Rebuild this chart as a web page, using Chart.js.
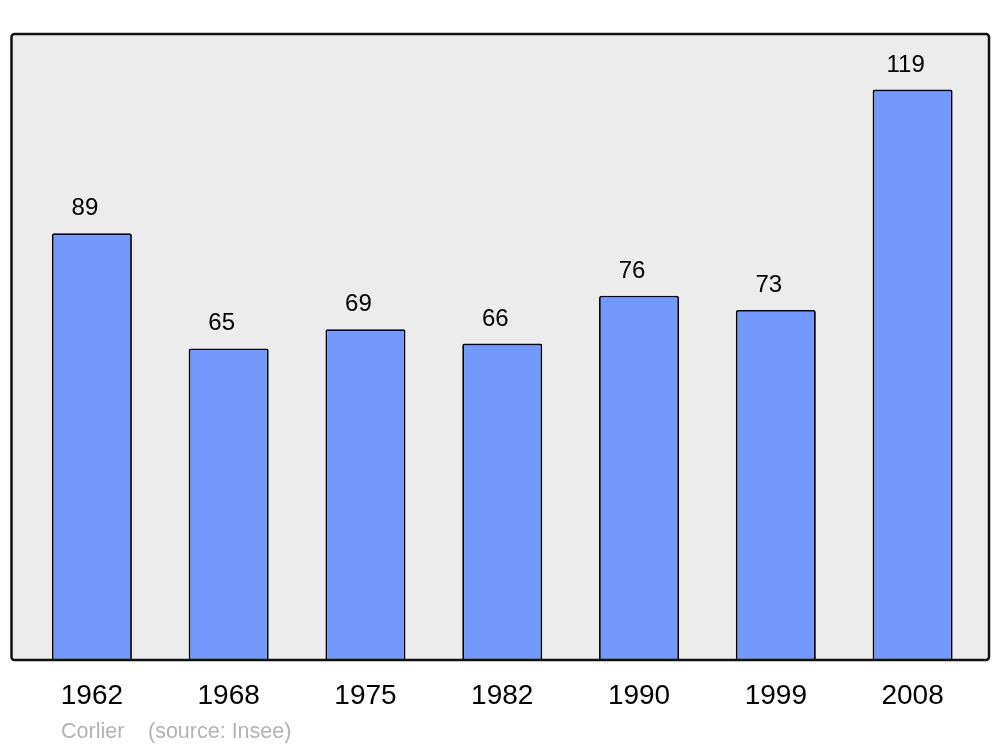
<!DOCTYPE html>
<html lang="fr">
<head>
<meta charset="UTF-8">
<title>Corlier - population</title>
<script src="https://cdn.jsdelivr.net/npm/chart.js"></script>
<style>
  html, body { margin: 0; padding: 0; background: #fff; }
  #wrap { width: 1000px; height: 747px; }
</style>
</head>
<body>
<div id="wrap"><canvas id="chart" width="1000" height="747"></canvas></div>
<script>
  // donnees
  var annees = ["1962", "1968", "1975", "1982", "1990", "1999", "2008"];
  var population = [89, 65, 69, 66, 76, 73, 119];
  var yMax = 130.6;

  // fond gris + cadre noir
  var cadre = {
    id: "cadre",
    beforeDatasetsDraw: function (chart) {
      var a = chart.chartArea, ctx = chart.ctx;
      ctx.save();
      ctx.fillStyle = "#ececec";
      ctx.beginPath();
      ctx.roundRect(a.left - 12, a.top, a.right - a.left + 20, a.bottom - a.top, 3);
      ctx.fill();
      ctx.restore();
    },
    afterDatasetsDraw: function (chart) {
      var a = chart.chartArea, ctx = chart.ctx;
      ctx.save();
      ctx.strokeStyle = "#111";
      ctx.lineWidth = 2.5;
      ctx.beginPath();
      ctx.roundRect(a.left - 12, a.top, a.right - a.left + 20, a.bottom - a.top, 3);
      ctx.stroke();

      // valeurs au-dessus des barres
      ctx.fillStyle = "#000";
      ctx.font = "24px 'Liberation Sans', Arial, sans-serif";
      ctx.textAlign = "center";
      ctx.textBaseline = "alphabetic";
      chart.getDatasetMeta(0).data.forEach(function (bar, i) {
        ctx.fillText(String(population[i]), bar.x - 7, bar.y - 18);
      });

      // source
      ctx.fillStyle = "#b3b3b3";
      ctx.font = "21.5px 'Liberation Sans', Arial, sans-serif";
      ctx.textAlign = "left";
      ctx.fillText("Corlier", 61, 737.5);
      ctx.fillText("(source: Insee)", 148, 737.5);
      ctx.restore();
    }
  };

  new Chart(document.getElementById("chart"), {
    type: "bar",
    data: {
      labels: annees,
      datasets: [{
        data: population,
        backgroundColor: "#7399ff",
        borderColor: "#000",
        borderWidth: 1.8,
        borderRadius: 2,
        barPercentage: 0.585,
        categoryPercentage: 1
      }]
    },
    options: {
      responsive: false,
      animation: false,
      layout: { padding: { left: 23.5, right: 19, top: 34, bottom: 14.5 } },
      plugins: {
        legend: { display: false },
        tooltip: { enabled: false }
      },
      scales: {
        x: {
          grid: { display: false, drawTicks: false },
          border: { display: false },
          ticks: {
            color: "#000",
            padding: 19.5,
            font: { family: "'Liberation Sans', Arial, sans-serif", size: 28 }
          }
        },
        y: {
          display: false,
          min: 0,
          max: yMax
        }
      }
    },
    plugins: [cadre]
  });
</script>
</body>
</html>
